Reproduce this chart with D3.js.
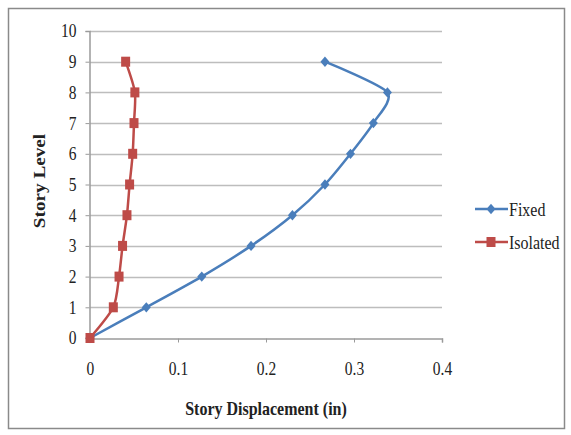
<!DOCTYPE html>
<html><head><meta charset="utf-8">
<script src="https://cdn.jsdelivr.net/npm/d3@7"></script>
<style>body{margin:0;background:#fff;}svg{display:block;}</style>
</head><body>
<svg id="c" width="571" height="435"></svg>
<script>
const levels = [0,1,2,3,4,5,6,7,8,9];
const fixed = [0,0.064,0.127,0.183,0.230,0.267,0.296,0.322,0.338,0.267];
const isolated = [0,0.0265,0.033,0.037,0.042,0.045,0.0485,0.050,0.051,0.0405];
const xTicks = [0,0.1,0.2,0.3,0.4];
const yTicks = [0,1,2,3,4,5,6,7,8,9,10];
const seriesNames = ["Fixed","Isolated"];
const colors = ["#4A7EBB","#BE4B48"];

const svg = d3.select("#c");
const font = "'Liberation Serif','Times New Roman',serif";
const SY = 1.2; // vertical stretch of glyphs
svg.append("rect").attr("x",8.5).attr("y",8.5).attr("width",556).attr("height",420)
  .attr("fill","#fff").attr("stroke","#8a8a8a").attr("stroke-width",1.5);

const x = d3.scaleLinear().domain([0,0.4]).range([90,442]);
const y = d3.scaleLinear().domain([0,10]).range([338,31]);

// gridlines
svg.append("g").selectAll("line").data(yTicks.filter(d=>d>0)).join("line")
  .attr("x1",x(0)).attr("x2",x(0.4)).attr("y1",d=>Math.round(y(d))+0.5).attr("y2",d=>Math.round(y(d))+0.5)
  .attr("stroke","#bdbdbd").attr("stroke-width",1.5);

// axes
const xa = svg.append("g").attr("transform",`translate(0,${Math.round(y(0))+0.5})`)
  .call(d3.axisBottom(x).tickValues(xTicks).tickFormat(d3.format("")).tickSize(4));
const ya = svg.append("g").attr("transform",`translate(${x(0)-0.5},0)`)
  .call(d3.axisLeft(y).tickValues(yTicks).tickSize(4).tickPadding(9));
[xa,ya].forEach(a=>{
  a.select(".domain").attr("stroke","#9a9a9a").attr("stroke-width",1.5);
  a.selectAll(".tick line").attr("stroke","#9a9a9a");
  a.selectAll("text").attr("font-family",font).attr("font-size",15.5).attr("fill","#222")
    .attr("transform",`scale(1,${SY})`);
});
xa.selectAll("text").attr("y",31/SY).attr("dy","0.32em");

// axis titles
svg.append("text").attr("transform",`translate(266,408) scale(1,${SY})`).attr("text-anchor","middle")
  .attr("dy","0.35em")
  .attr("font-family",font).attr("font-weight","bold").attr("font-size",16).attr("fill","#222")
  .text("Story Displacement (in)");
svg.append("text").attr("transform",`translate(39,181) scale(1,${SY}) rotate(-90)`).attr("text-anchor","middle")
  .attr("dy","0.35em")
  .attr("font-family",font).attr("font-weight","bold").attr("font-size",16).attr("fill","#222")
  .text("Story Level");

const line = d3.line().x(d=>x(d[0])).y(d=>y(d[1])).curve(d3.curveCardinal.tension(0.25));
const data = [fixed, isolated].map(s => s.map((v,i)=>[v, levels[i]]));
const diamond = (cx,cy,r)=>`M${cx},${cy-r*1.15}L${cx+r},${cy}L${cx},${cy+r*1.15}L${cx-r},${cy}Z`;

data.forEach((pts,k)=>{
  svg.append("path").attr("d",line(pts)).attr("fill","none").attr("stroke",colors[k]).attr("stroke-width",2.5);
  const g = svg.append("g");
  if(k===0){
    g.selectAll("path").data(pts).join("path").attr("d",d=>diamond(x(d[0]),y(d[1]),4.5)).attr("fill",colors[k]);
  } else {
    g.selectAll("rect").data(pts).join("rect").attr("x",d=>x(d[0])-4.5).attr("y",d=>y(d[1])-5)
      .attr("width",9).attr("height",10).attr("fill",colors[k]);
  }
});

// legend
const legY = [209,242];
seriesNames.forEach((n,k)=>{
  svg.append("line").attr("x1",475).attr("x2",508).attr("y1",legY[k]).attr("y2",legY[k])
    .attr("stroke",colors[k]).attr("stroke-width",2.5);
  if(k===0) svg.append("path").attr("d",diamond(491,legY[k],4.5)).attr("fill",colors[k]);
  else svg.append("rect").attr("x",486.5).attr("y",legY[k]-5).attr("width",9).attr("height",10).attr("fill",colors[k]);
  svg.append("text").attr("transform",`translate(509,${legY[k]}) scale(1,${SY})`).attr("dy","0.35em")
    .attr("font-family",font).attr("font-size",16).attr("fill","#222").text(n);
});
</script>
</body></html>
